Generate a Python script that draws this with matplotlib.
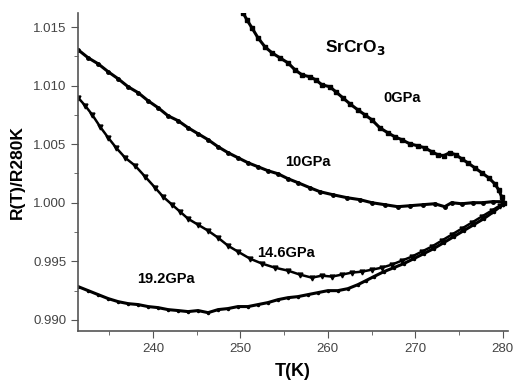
import matplotlib
matplotlib.use("Agg")
import matplotlib.pyplot as plt
from matplotlib.ticker import MultipleLocator, FormatStrFormatter

# 0 GPa
t_0 = [250.29, 250.74, 251.31, 252.0, 252.8, 253.6, 254.51, 255.43, 256.23, 257.03,
       257.94, 258.63, 259.31, 260.23, 260.91, 261.71, 262.51, 263.43, 264.23, 265.03,
       265.94, 266.86, 267.66, 268.46, 269.37, 270.29, 271.09, 271.89, 272.57, 273.26,
       273.94, 274.63, 275.31, 276.0, 276.8, 277.6, 278.4, 279.09, 279.54, 279.89, 280.11]
r_0 = [1.01621, 1.01561, 1.01493, 1.01408, 1.01331, 1.01280, 1.01237, 1.01194, 1.01135, 1.01092,
       1.01075, 1.01049, 1.01007, 1.00990, 1.00947, 1.00896, 1.00845, 1.00793, 1.00751, 1.00708,
       1.00640, 1.00597, 1.00563, 1.00538, 1.00503, 1.00486, 1.00469, 1.00435, 1.00410, 1.00401,
       1.00427, 1.00410, 1.00375, 1.00341, 1.00299, 1.00256, 1.00213, 1.00162, 1.00111, 1.00051, 1.0]

# 10 GPa
t_10 = [231.43, 232.57, 233.71, 234.86, 236.0, 237.14, 238.29, 239.43, 240.57, 241.71,
        242.86, 244.0, 245.14, 246.29, 247.43, 248.57, 249.71, 250.86, 252.0, 253.14,
        254.29, 255.43, 256.57, 257.94, 259.09, 260.57, 262.17, 263.66, 265.03, 266.51,
        268.0, 269.37, 270.86, 272.23, 273.37, 274.17, 275.31, 276.57, 277.71, 278.86, 280.0]
r_10 = [1.01305, 1.01237, 1.01186, 1.01118, 1.01058, 1.00990, 1.00939, 1.00870, 1.00811, 1.00742,
        1.00700, 1.00640, 1.00589, 1.00538, 1.00478, 1.00427, 1.00384, 1.00341, 1.00307, 1.00273,
        1.00247, 1.00205, 1.00171, 1.00128, 1.00094, 1.00068, 1.00043, 1.00026, 1.0, 0.99983,
        0.99966, 0.99974, 0.99983, 0.99991, 0.99966, 1.0, 0.99991, 1.0, 1.0, 1.00009, 1.00009]

# 14.6 GPa
t_146 = [231.43, 232.23, 233.03, 233.94, 234.86, 235.77, 236.8, 237.94, 239.09, 240.23,
         241.14, 242.17, 243.09, 244.0, 245.14, 246.29, 247.43, 248.57, 249.71, 251.09,
         252.46, 253.94, 255.43, 256.8, 258.17, 259.31, 260.46, 261.6, 262.74, 263.89,
         265.03, 266.17, 267.31, 268.46, 269.6, 270.74, 271.89, 273.03, 274.17, 275.31,
         276.46, 277.6, 278.74, 279.66, 280.0]
r_146 = [1.00896, 1.00828, 1.00751, 1.00648, 1.00555, 1.00469, 1.00384, 1.00316, 1.00222, 1.00128,
         1.00051, 0.99983, 0.99923, 0.99863, 0.99812, 0.99761, 0.99701, 0.99633, 0.99582, 0.99522,
         0.99480, 0.99445, 0.99420, 0.99386, 0.99360, 0.99377, 0.99369, 0.99386, 0.99403, 0.99411,
         0.99428, 0.99445, 0.99471, 0.99505, 0.99539, 0.99582, 0.99625, 0.99676, 0.99727, 0.99778,
         0.99829, 0.99881, 0.99932, 0.99974, 0.99991]

# 19.2 GPa
t_192 = [231.43, 232.57, 233.71, 234.86, 236.0, 237.14, 238.29, 239.43, 240.57, 241.71,
         242.86, 244.0, 245.14, 246.29, 247.43, 248.57, 249.71, 250.86, 252.0, 253.14,
         254.29, 255.43, 256.57, 257.71, 258.86, 260.0, 261.14, 262.29, 263.43, 264.34,
         265.26, 266.4, 267.54, 268.69, 269.83, 270.97, 272.11, 273.26, 274.4, 275.54,
         276.69, 277.83, 278.97, 280.0]
r_192 = [0.99283, 0.99249, 0.99215, 0.99181, 0.99155, 0.99138, 0.99130, 0.99113, 0.99104, 0.99087,
         0.99079, 0.99070, 0.99079, 0.99061, 0.99087, 0.99096, 0.99113, 0.99113, 0.99130, 0.99147,
         0.99172, 0.99189, 0.99198, 0.99215, 0.99232, 0.99249, 0.99249, 0.99266, 0.99300, 0.99334,
         0.99369, 0.99411, 0.99445, 0.99480, 0.99522, 0.99565, 0.99608, 0.99659, 0.99710, 0.99761,
         0.99812, 0.99863, 0.99923, 0.99983]

plt.rcParams['font.family'] = ['Liberation Sans', 'DejaVu Sans']

fig = plt.figure(figsize=(5.13, 3.82), dpi=100)
ax = fig.add_axes([0.152, 0.134, 0.838, 0.832])

ax.plot(t_0, r_0, color='black', lw=2.2, marker='s', ms=2.5)
ax.plot(t_10, r_10, color='black', lw=2.2, marker='o', ms=2.5)
ax.plot(t_146, r_146, color='black', lw=1.8, marker='v', ms=3.5)
ax.plot(t_192, r_192, color='black', lw=2.2, marker='.', ms=3)

ax.set_xlim(231.4, 280.6)
ax.set_ylim(0.98906, 1.0162)

ax.xaxis.set_major_locator(MultipleLocator(10))
ax.xaxis.set_minor_locator(MultipleLocator(5))
ax.yaxis.set_major_locator(MultipleLocator(0.005))
ax.yaxis.set_minor_locator(MultipleLocator(0.0025))
ax.yaxis.set_major_formatter(FormatStrFormatter('%.3f'))

for s in ['top', 'right']:
    ax.spines[s].set_visible(False)
for s in ['left', 'bottom']:
    ax.spines[s].set_color('#555555')
    ax.spines[s].set_linewidth(1.2)
ax.tick_params(which='both', direction='out', color='#555555', labelcolor='#444444', labelsize=9.5)
ax.tick_params(which='major', length=5)
ax.tick_params(which='minor', length=3)

ax.set_xlabel('T(K)', fontsize=13, fontweight='bold', labelpad=6)
ax.set_ylabel('R(T)/R280K', fontsize=12.5, fontweight='bold', labelpad=6)

ax.text(259.66, 1.01322, 'SrCrO$_\\mathbf{3}$', fontsize=12.5, fontweight='bold', va='center')
ax.text(266.3, 1.00896, '0GPa', fontsize=10.5, fontweight='bold', va='center')
ax.text(255.1, 1.0035, '10GPa', fontsize=10.5, fontweight='bold', va='center')
ax.text(251.9, 0.99573, '14.6GPa', fontsize=10.5, fontweight='bold', va='center')
ax.text(238.2, 0.99352, '19.2GPa', fontsize=10.5, fontweight='bold', va='center')

fig.savefig('out.png', dpi=100)
